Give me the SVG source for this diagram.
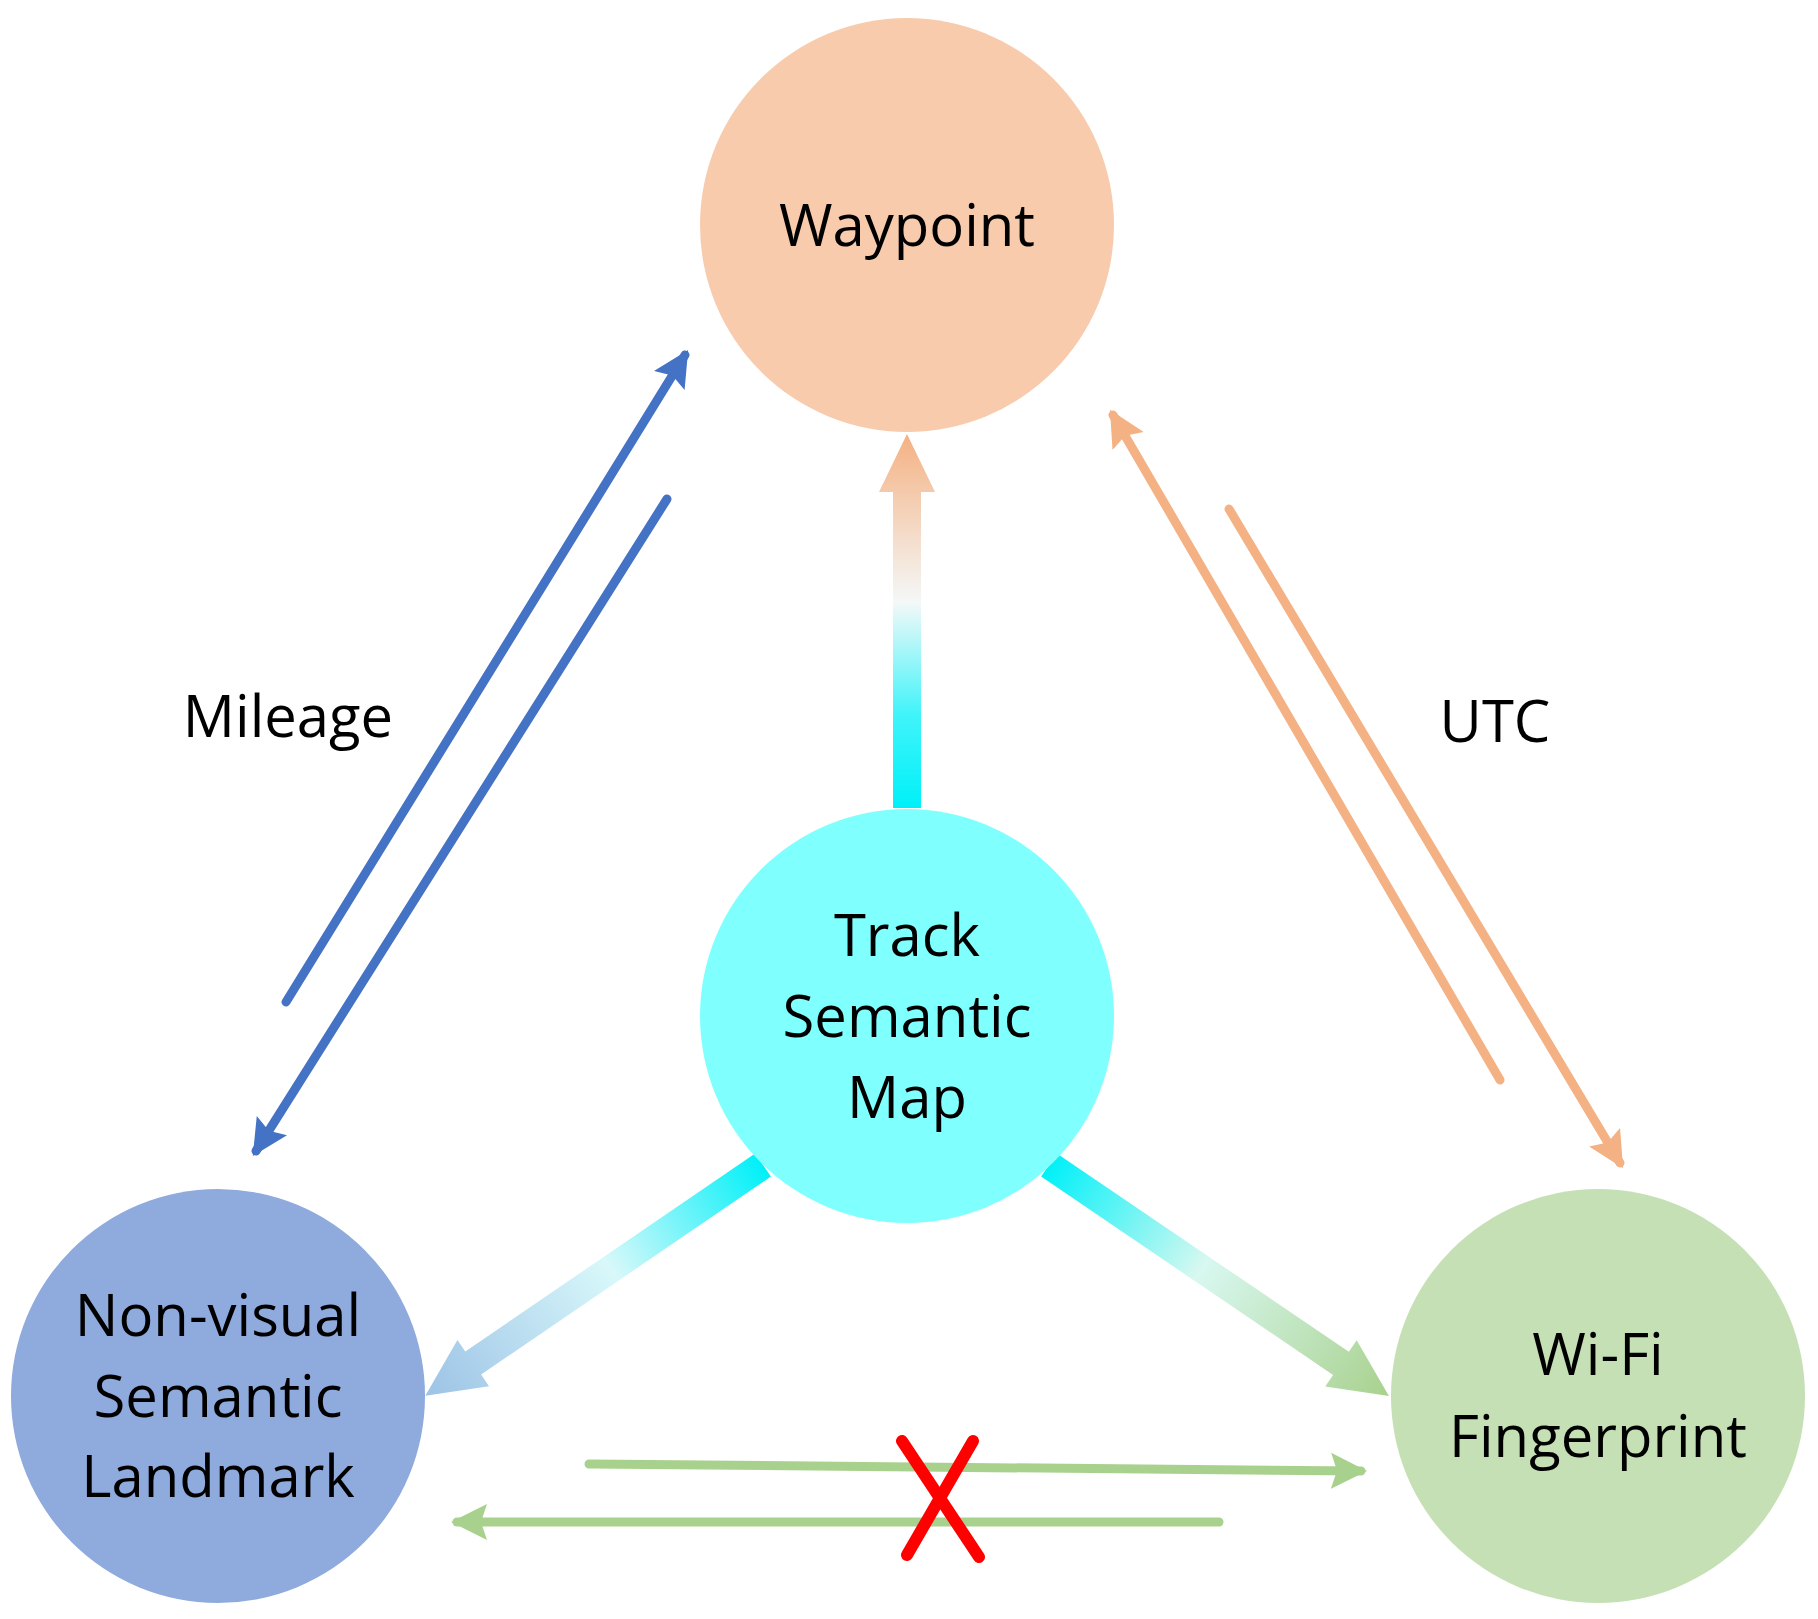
<svg xmlns="http://www.w3.org/2000/svg" width="1818" height="1619" viewBox="0 0 1818 1619">
<style>
text{font-family:"Open Sans","Liberation Sans",sans-serif;font-size:58px;fill:#000;text-anchor:middle}
.thin{fill:none;stroke-width:9;stroke-linecap:round}
</style>
<defs>
<marker id="hb" markerUnits="userSpaceOnUse" markerWidth="40" markerHeight="40" refX="30" refY="18" orient="auto"><path d="M0,0 L36,18 L0,36 L6,18 z" fill="#4472c4"/></marker>
<marker id="ho" markerUnits="userSpaceOnUse" markerWidth="40" markerHeight="40" refX="30" refY="18" orient="auto"><path d="M0,0 L36,18 L0,36 L6,18 z" fill="#f4b183"/></marker>
<marker id="hg" markerUnits="userSpaceOnUse" markerWidth="40" markerHeight="40" refX="30" refY="18" orient="auto"><path d="M0,0 L36,18 L0,36 L6,18 z" fill="#a9d18e"/></marker>
<linearGradient id="gUp" x1="0" y1="0" x2="1" y2="0"><stop offset="0" stop-color="#00f0f8"/><stop offset="0.25" stop-color="#40f4fa"/><stop offset="0.55" stop-color="#f4f8f8"/><stop offset="1" stop-color="#f4b183"/></linearGradient>
<linearGradient id="gL" x1="0" y1="0" x2="1" y2="0"><stop offset="0" stop-color="#00f0f8"/><stop offset="0.45" stop-color="#d8f8fa"/><stop offset="1" stop-color="#9dc3e6"/></linearGradient>
<linearGradient id="gR" x1="0" y1="0" x2="1" y2="0"><stop offset="0" stop-color="#00f0f8"/><stop offset="0.45" stop-color="#d8f8f0"/><stop offset="1" stop-color="#a9d18e"/></linearGradient>
</defs>
<g id="connectors">
<line class="thin" stroke="#4472c4" x1="286" y1="1002" x2="685" y2="355" marker-end="url(#hb)"/>
<line class="thin" stroke="#4472c4" x1="667" y1="499" x2="256" y2="1151" marker-end="url(#hb)"/>
<line class="thin" stroke="#f4b183" x1="1500" y1="1080" x2="1113" y2="415" marker-end="url(#ho)"/>
<line class="thin" stroke="#f4b183" x1="1229" y1="509" x2="1620" y2="1163" marker-end="url(#ho)"/>
<line class="thin" stroke="#a9d18e" x1="589" y1="1464" x2="1361" y2="1471" marker-end="url(#hg)"/>
<line class="thin" stroke="#a9d18e" x1="1219" y1="1522" x2="457" y2="1522" marker-end="url(#hg)"/>
<g transform="translate(907,808) rotate(-90)"><polygon fill="url(#gUp)" points="0,-14 316,-14 316,-28 374,0 316,28 316,14 0,14"/></g>
<g transform="translate(763,1165) rotate(145.65)"><polygon fill="url(#gL)" points="0,-14 351,-14 351,-28 409,0 351,28 351,14 0,14"/></g>
<g transform="translate(1049,1165) rotate(34.2)"><polygon fill="url(#gR)" points="0,-14 353,-14 353,-28 411,0 353,28 353,14 0,14"/></g>
<g stroke="#ff0000" stroke-width="12" stroke-linecap="round"><line x1="902" y1="1441" x2="979" y2="1557"/><line x1="973" y1="1441" x2="907" y2="1555"/></g>
</g>
<g id="waypoint"><circle cx="907" cy="225" r="207" fill="#f8cbad"/><text x="907" y="246">Waypoint</text></g>
<g id="track"><circle cx="907" cy="1016" r="207" fill="#80ffff"/><text x="907" y="956">Track</text><text x="907" y="1037">Semantic</text><text x="907" y="1118">Map</text></g>
<g id="nonvisual"><circle cx="218" cy="1396" r="207" fill="#8faadc"/><text x="218" y="1336">Non-visual</text><text x="218" y="1417">Semantic</text><text x="218" y="1497">Landmark</text></g>
<g id="wifi"><circle cx="1598" cy="1396" r="207" fill="#c5e0b4"/><text x="1598" y="1375">Wi-Fi</text><text x="1598" y="1457">Fingerprint</text></g>
<g id="labels"><text x="288" y="737">Mileage</text><text x="1495" y="742">UTC</text></g>
</svg>
